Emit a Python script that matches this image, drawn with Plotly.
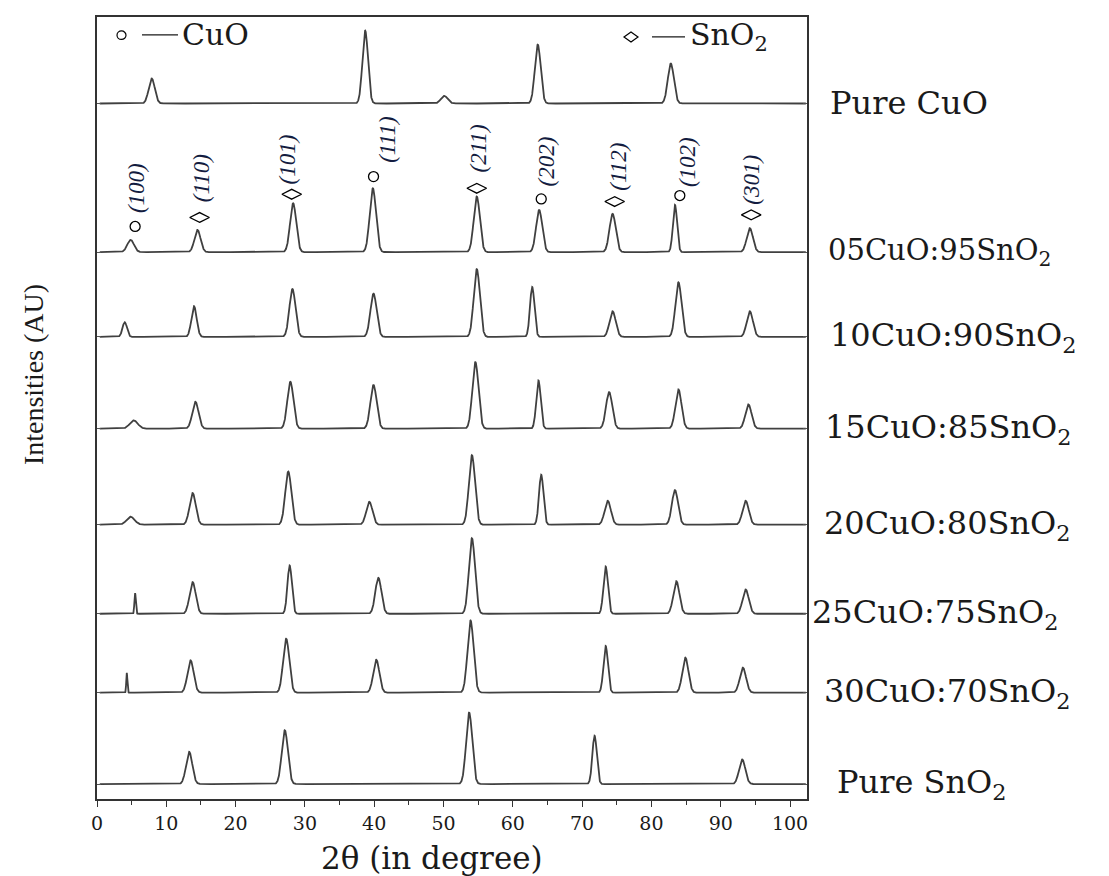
import numpy as np
import plotly.graph_objects as go

# ---------------- data ----------------
sample_labels = ["Pure CuO", "05CuO:95SnO<sub>2</sub>", "10CuO:90SnO<sub>2</sub>",
                 "15CuO:85SnO<sub>2</sub>", "20CuO:80SnO<sub>2</sub>", "25CuO:75SnO<sub>2</sub>",
                 "30CuO:70SnO<sub>2</sub>", "Pure SnO<sub>2</sub>"]
# vertical stacking offsets (AU)
stack_offsets = [697.3, 548.3, 463.3, 371.3, 275.0, 185.7, 106.7, 15.0]

# peak centres (2theta, deg), intensities (AU) and widths (sigma, deg) per sample
cuo_pos = [7.9, 38.7, 50.1, 63.6, 82.8]
cuo_int = [25, 73, 7.7, 59, 40]
cuo_wid = [0.44, 0.40, 0.48, 0.42, 0.44]

s05_pos = [4.85, 14.5, 28.3, 39.8, 54.8, 63.8, 74.4, 83.4, 94.2]
s05_int = [12.3, 22.3, 49, 64, 55.7, 42.3, 38.3, 47.3, 24]
s05_wid = [0.48, 0.44, 0.44, 0.45, 0.44, 0.44, 0.45, 0.30, 0.45]

s10_pos = [4.0, 14.0, 28.2, 39.9, 54.8, 62.8, 74.4, 83.9, 94.2]
s10_int = [14.7, 30.7, 48, 43.3, 68, 50, 25.7, 54.7, 25.7]
s10_wid = [0.32, 0.38, 0.44, 0.45, 0.44, 0.32, 0.45, 0.44, 0.45]

s15_pos = [5.3, 14.2, 27.9, 39.9, 54.6, 63.7, 73.9, 83.9, 94.0]
s15_int = [8.3, 27, 47, 43.7, 66.7, 48.3, 36.7, 39.3, 24.3]
s15_wid = [0.58, 0.45, 0.44, 0.45, 0.44, 0.32, 0.45, 0.44, 0.45]

s20_pos = [4.85, 13.8, 27.6, 39.3, 54.1, 64.1, 73.7, 83.4, 93.6]
s20_int = [8, 31.7, 53.3, 23, 69.7, 50, 24, 34.7, 24]
s20_wid = [0.58, 0.45, 0.44, 0.45, 0.44, 0.32, 0.45, 0.44, 0.45]

s25_pos = [5.5, 13.8, 27.8, 40.6, 54.1, 73.4, 83.6, 93.6]
s25_int = [20.7, 31.7, 48.3, 36, 75.7, 47.3, 32.7, 24.3]
s25_wid = [0.10, 0.45, 0.32, 0.44, 0.44, 0.32, 0.44, 0.45]

s30_pos = [4.3, 13.5, 27.3, 40.3, 53.9, 73.4, 84.9, 93.2]
s30_int = [19.7, 32.3, 54, 33, 72.3, 46.7, 35, 25]
s30_wid = [0.08, 0.45, 0.44, 0.44, 0.44, 0.32, 0.44, 0.45]

sno2_pos = [13.3, 27.1, 53.7, 71.8, 93.1]
sno2_int = [32.3, 54, 71.7, 48.3, 24.7]
sno2_wid = [0.45, 0.44, 0.44, 0.32, 0.45]

# reflections indexed on the 05CuO:95SnO2 pattern
hkl_labels = ["(100)", "(110)", "(101)", "(111)", "(211)", "(202)", "(112)", "(102)", "(301)"]
hkl_phase = ["CuO", "SnO2", "SnO2", "CuO", "SnO2", "CuO", "SnO2", "CuO", "SnO2"]
hkl_marker_pos = [5.5, 14.8, 28.1, 39.9, 54.8, 64.1, 74.7, 84.1, 94.4]
hkl_marker_h = [25.7, 34.7, 58, 75.7, 64, 53.3, 50.7, 56.7, 37.3]
hkl_label_pos = [5.6, 15.0, 27.5, 41.8, 55.0, 64.9, 75.2, 85.2, 94.5]
hkl_label_h = [64, 74, 92.4, 112.2, 104, 90.7, 85.7, 90.7, 72.4]

x_ticks = [0, 10, 20, 30, 40, 50, 60, 70, 80, 90, 100]

# ---------------- layout geometry (page pixels; page body has an 8px margin) ----------------
PAGE_OFF = 8
PL, PR, PT, PB = 97, 807, 15, 799          # plot area on the page


def px(xp):
    return (xp - PL) / (PR - PL)


def py(yp):
    return (PB - yp) / (PB - PT)


# ---------------- figure ----------------
peak_sets = [(cuo_pos, cuo_int, cuo_wid), (s05_pos, s05_int, s05_wid),
             (s10_pos, s10_int, s10_wid), (s15_pos, s15_int, s15_wid),
             (s20_pos, s20_int, s20_wid), (s25_pos, s25_int, s25_wid),
             (s30_pos, s30_int, s30_wid), (sno2_pos, sno2_int, sno2_wid)]

two_theta = np.arange(0.4, 102.3, 0.02)
fig = go.Figure()
for (pos, inten, wid), off, name in zip(peak_sets, stack_offsets, sample_labels):
    y = np.full_like(two_theta, off)
    for c, h, s in zip(pos, inten, wid):
        y = y + h * np.exp(-((two_theta - c) ** 2) / (2 * s ** 2))
    fig.add_trace(go.Scatter(x=two_theta, y=y, mode="lines", name=name,
                             line=dict(color="#404040", width=1.8),
                             showlegend=False, hoverinfo="skip"))

ref_off = stack_offsets[1]
for phase, sym, size in [("CuO", "circle-open", 10), ("SnO2", "diamond-wide-open", 14)]:
    xs = [p for p, ph in zip(hkl_marker_pos, hkl_phase) if ph == phase]
    ys = [ref_off + h for h, ph in zip(hkl_marker_h, hkl_phase) if ph == phase]
    fig.add_trace(go.Scatter(x=xs, y=ys, mode="markers", showlegend=False,
                             marker=dict(symbol=sym, size=size, color="black",
                                         line=dict(color="black", width=1.3)),
                             hoverinfo="skip"))

annotations = []
for lab, xpos, h in zip(hkl_labels, hkl_label_pos, hkl_label_h):
    annotations.append(dict(x=xpos, y=ref_off + h, xref="x", yref="y", text=lab,
                            textangle=-90, showarrow=False, xanchor="center",
                            yanchor="middle",
                            font=dict(family="Liberation Serif", size=23, color="#131c40",
                                      style="italic")))

label_x = [828, 826, 828, 823, 822, 810, 822, 835]
label_size = [32, 29, 32, 32, 32, 32, 32, 32]
for lab, off, lx, fs in zip(sample_labels, stack_offsets, label_x, label_size):
    annotations.append(dict(x=px(lx), y=off, xref="paper", yref="y", text=lab,
                            xanchor="left", yanchor="middle", showarrow=False,
                            font=dict(family="DejaVu Serif", size=fs, color="#1a1a1a")))

# key (legend-like) in the top of the frame
key_font = dict(family="DejaVu Serif", size=30, color="#1a1a1a")
annotations += [
    dict(x=px(180), y=py(33), xref="paper", yref="paper", text="CuO",
         xanchor="left", yanchor="middle", showarrow=False, font=key_font),
    dict(x=px(688), y=py(35), xref="paper", yref="paper", text="SnO<sub>2</sub>",
         xanchor="left", yanchor="middle", showarrow=False, font=key_font),
    dict(x=px(432), y=py(858), xref="paper", yref="paper",
         text="2θ (in degree)", showarrow=False, xanchor="center", yanchor="middle",
         font=dict(family="DejaVu Serif", size=31, color="#1a1a1a")),
    dict(x=px(33), y=py(374), xref="paper", yref="paper",
         text="Intensities (AU)", textangle=-90, showarrow=False,
         xanchor="center", yanchor="middle",
         font=dict(family="Liberation Serif", size=28, color="#1a1a1a")),
]

shapes = [
    dict(type="circle", xref="paper", yref="paper", x0=px(117), x1=px(126),
         y0=py(37.5), y1=py(29), line=dict(color="black", width=1.2)),
    dict(type="line", xref="paper", yref="paper", x0=px(142), x1=px(178),
         y0=py(33), y1=py(33), line=dict(color="#1a1a1a", width=1.3)),
    dict(type="path", xref="paper", yref="paper",
         path=f"M {px(624)} {py(35)} L {px(631)} {py(30)} L {px(638)} {py(35)} "
              f"L {px(631)} {py(40)} Z",
         line=dict(color="black", width=1.2)),
    dict(type="line", xref="paper", yref="paper", x0=px(652), x1=px(685),
         y0=py(35), y1=py(35), line=dict(color="#1a1a1a", width=1.3)),
]

W, H = 1109 - PAGE_OFF, 876 - PAGE_OFF
fig.update_layout(
    width=W, height=H,
    margin=dict(l=PL - PAGE_OFF, r=(W + PAGE_OFF) - PR, t=PT - PAGE_OFF,
                b=(H + PAGE_OFF) - PB),
    paper_bgcolor="white", plot_bgcolor="white",
    annotations=annotations, shapes=shapes,
    showlegend=False,
    xaxis=dict(range=[0, 102.45], tickvals=x_ticks, ticktext=[str(v) for v in x_ticks],
               ticks="outside", ticklen=6, tickwidth=1, tickcolor="#333",
               minor=dict(dtick=5, tick0=0, ticks="outside", ticklen=4, tickcolor="#333"),
               showline=True, linecolor="#333", linewidth=1.5, mirror=True,
               showgrid=False, zeroline=False,
               tickfont=dict(family="DejaVu Serif", size=19, color="#1a1a1a")),
    yaxis=dict(range=[0, 784], tickvals=stack_offsets, showticklabels=False,
               ticks="inside", ticklen=4, tickcolor="#555",
               showline=True, linecolor="#333", linewidth=1.5, mirror="ticks",
               showgrid=False, zeroline=False),
)

fig.write_html("out.html")
